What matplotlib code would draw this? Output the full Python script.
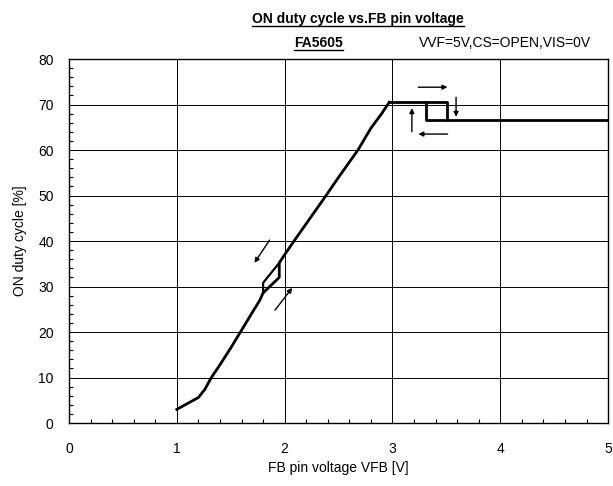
import numpy as np
import matplotlib
matplotlib.use('Agg')
import matplotlib.pyplot as plt
from matplotlib.lines import Line2D
from matplotlib.ticker import MultipleLocator

plt.rcParams['font.family'] = ['Liberation Sans', 'DejaVu Sans']

# rising slope (VFB [V], duty [%])
vfb = [1.0, 1.1, 1.2, 1.26, 1.32, 1.4, 1.5, 1.59, 1.7, 1.77, 1.8, 1.95, 1.95,
       2.0, 2.087, 2.2, 2.384, 2.5, 2.68, 2.8, 2.9, 2.97]
duty = [3.0, 4.3, 5.6, 7.4, 10.0, 12.8, 16.5, 20.0, 24.3, 27.0, 28.6, 32.0,
        35.2, 37.0, 40.0, 43.8, 50.0, 54.0, 60.0, 64.8, 68.0, 70.5]
# low-side hysteresis (falling path)
loop_v = [1.8, 1.8, 1.95]
loop_d = [28.6, 30.8, 35.2]
# high-side hysteresis
top_v = [2.97, 3.51, 3.51, 5.0]
top_d = [70.5, 70.5, 66.5, 66.5]
step_v = [3.51, 3.31, 3.31]
step_d = [66.5, 66.5, 70.5]

# direction arrows (start, end)
arrows = [((3.24, 73.8), (3.51, 73.8)),
          ((3.59, 71.6), (3.59, 67.3)),
          ((3.18, 64.0), (3.18, 69.2)),
          ((3.51, 63.5), (3.24, 63.5)),
          ((1.86, 40.2), (1.72, 35.2)),
          ((1.91, 24.8), (2.07, 29.7))]

fig = plt.figure(figsize=(6.13, 4.86), dpi=100)
ax = fig.add_axes([0.1126, 0.1296, 0.8794, 0.749])

ax.plot(vfb, duty, color='black', lw=2.0, solid_joinstyle='round')
ax.plot(loop_v, loop_d, color='black', lw=1.6)
ax.plot(top_v, top_d, color='black', lw=2.0)
ax.plot(step_v, step_d, color='black', lw=2.0)

for (x0, y0), (x1, y1) in arrows:
    ax.annotate('', xy=(x1, y1), xytext=(x0, y0),
                arrowprops=dict(arrowstyle='-|>', color='black', lw=1.0,
                                mutation_scale=7, shrinkA=0, shrinkB=0))

ax.set_xlim(0, 5)
ax.set_ylim(0, 80)
ax.set_xticks(range(0, 6))
ax.set_yticks(range(0, 81, 10))
ax.xaxis.set_minor_locator(MultipleLocator(0.2))
ax.yaxis.set_minor_locator(MultipleLocator(2))
ax.grid(True, which='major', color='black', lw=0.7)
ax.tick_params(which='major', labelsize=10, length=0, direction='in')
ax.tick_params(axis='x', which='major', pad=14)
ax.tick_params(axis='y', which='major', pad=11)
ax.tick_params(which='minor', length=3, width=0.8, direction='in')
for s in ax.spines.values():
    s.set_linewidth(1.0)
ax.set_xlabel('FB pin voltage VFB [V]', fontsize=10, labelpad=3)
ax.set_ylabel('ON duty cycle [%]', fontsize=10, labelpad=8)

def underlined(x, y, s, **kw):
    t = fig.text(x, y, s, ha='center', va='baseline', **kw)
    fig.canvas.draw()
    bb = t.get_window_extent().transformed(fig.transFigure.inverted())
    yl = y - 0.006
    fig.lines.append(Line2D([bb.x0, bb.x1], [yl, yl], color='black', lw=1.0,
                            transform=fig.transFigure))
    return t

underlined(0.584, 0.952, 'ON duty cycle vs.FB pin voltage', fontsize=10, fontweight='bold')
underlined(0.519, 0.904, 'FA5605', fontsize=10, fontweight='bold')
fig.text(0.824, 0.904, 'VVF=5V,CS=OPEN,VIS=0V', ha='center', va='baseline', fontsize=10)

fig.savefig('out.png', dpi=100)
